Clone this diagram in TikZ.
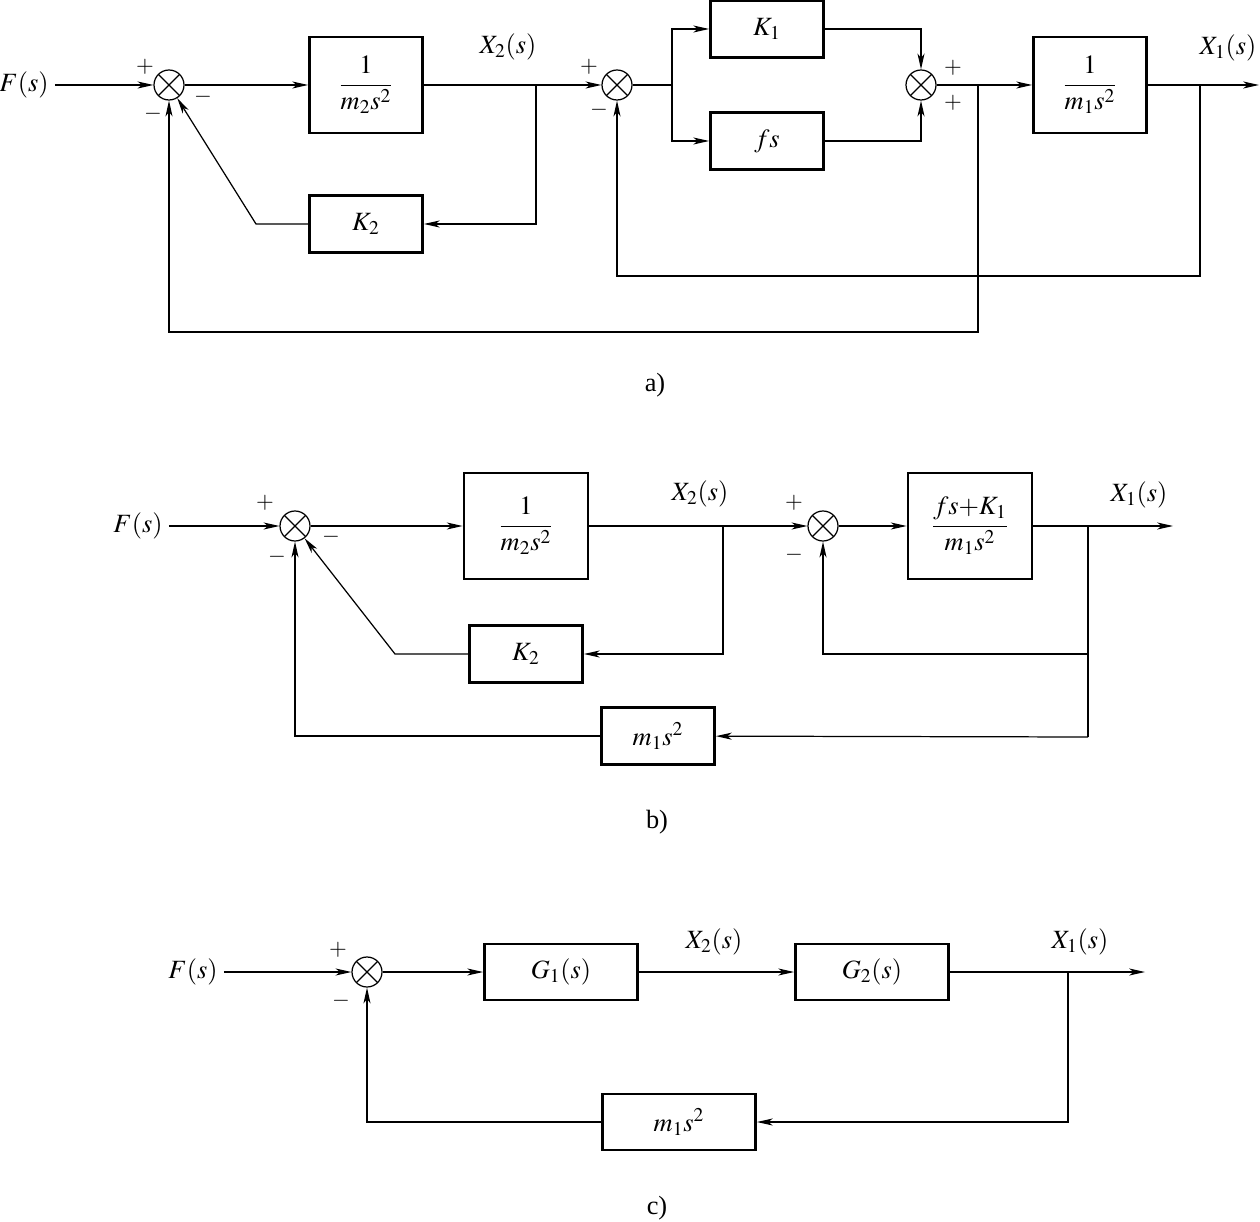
\documentclass[tikz,border=0pt]{standalone}
\usepackage{mathptmx}
\usepackage{fontspec}
\setmainfont{Liberation Serif}
\usetikzlibrary{arrows.meta}

\begin{document}
\begin{tikzpicture}[x=0.02cm,y=-0.02cm,line width=0.7pt,
  font=\fontsize{15}{17}\selectfont,
  Arr/.style={-{Stealth[length=9pt,width=4pt,inset=2.5pt]}},
  Blk/.style={draw,line width=1.6pt,inner sep=0pt},
  BigBlkA/.style={Blk,minimum width=2.26cm,minimum height=1.92cm},
  BigBlkB/.style={Blk,minimum width=2.48cm,minimum height=2.12cm},
  SmallBlk/.style={Blk,minimum width=2.26cm,minimum height=1.13cm},
  WideBlk/.style={Blk,minimum width=3.06cm,minimum height=1.12cm},
  SumPt/.style={circle,draw,line width=0.7pt,minimum size=0.6cm,inner sep=0pt,
    path picture={\draw (path picture bounding box.north west) -- (path picture bounding box.south east)
      (path picture bounding box.north east) -- (path picture bounding box.south west);}},
  Sgn/.style={inner sep=0pt,font=\fontsize{13}{15}\selectfont}]
\useasboundingbox (0,0) rectangle (1260,1222);

\node (fa) at (24,85) {$F(s)$};
\node[SumPt] (sa1) at (169,85) {};
\node[BigBlkA] (ga1) at (366,85) {$\displaystyle\frac{1}{m_2s^2}$};
\node[SmallBlk] (ka2) at (366,224) {$K_2$};
\node[SumPt] (sa2) at (617,85) {};
\node[SmallBlk] (ka1) at (767,29) {$K_1$};
\node[SmallBlk] (fsa) at (767,141) {$fs$};
\node[SumPt] (sa3) at (921,85) {};
\node[BigBlkA] (ga2) at (1090,85) {$\displaystyle\frac{1}{m_1s^2}$};
\node (xa2l) at (508,47) {$X_2(s)$};
\node (xa1l) at (1228,48) {$X_1(s)$};
\node[Sgn] at (145,67) {$+$};
\node[Sgn] at (153,114) {$-$};
\node[Sgn] at (203,97) {$-$};
\node[Sgn] at (589,67) {$+$};
\node[Sgn] at (599,110) {$-$};
\node[Sgn] at (953,68) {$+$};
\node[Sgn] at (953,103) {$+$};
\node (capa) at (655,385) {a)};

\coordinate (xa2) at (536,85);
\coordinate (ka2b) at (256,224);
\coordinate (spa) at (672,85);
\coordinate (ba) at (978,85);
\coordinate (bad) at (978,332);
\coordinate (xa1) at (1200,85);
\coordinate (xa1d) at (1200,276);
\coordinate (outa) at (1259,85);

\draw[Arr] (fa.east) -- (sa1);
\draw[Arr] (sa1) -- (ga1);
\draw (ga1) -- (xa2);
\draw[Arr] (xa2) -- (sa2);
\draw[Arr] (xa2) |- (ka2);
\draw[Arr] (ka2) -- (ka2b) -- (sa1);
\draw (sa2) -- (spa);
\draw[Arr] (spa) |- (ka1);
\draw[Arr] (spa) |- (fsa);
\draw[Arr] (ka1) -| (sa3);
\draw[Arr] (fsa) -| (sa3);
\draw[Arr] (sa3) -- (ga2);
\draw[Arr] (ba) -- (bad) -| (sa1);
\draw[Arr] (ga2) -- (outa);
\draw[Arr] (xa1) -- (xa1d) -| (sa2);

\node (fb) at (138,526) {$F(s)$};
\node[SumPt] (sb1) at (295,526) {};
\node[BigBlkB] (gb1) at (526,526) {$\displaystyle\frac{1}{m_2s^2}$};
\node[SmallBlk] (kb2) at (526,654) {$K_2$};
\node[SmallBlk] (hb) at (658,736) {$m_1s^2$};
\node[SumPt] (sb2) at (823,526) {};
\node[BigBlkB] (gb2) at (970,526) {$\displaystyle\frac{fs{+}K_1}{m_1s^2}$};
\node (xb2l) at (700,494) {$X_2(s)$};
\node (xb1l) at (1139,495) {$X_1(s)$};
\node[Sgn] at (265,503) {$+$};
\node[Sgn] at (277,557) {$-$};
\node[Sgn] at (331,537) {$-$};
\node[Sgn] at (794,503) {$+$};
\node[Sgn] at (794,555) {$-$};
\node (capb) at (657,822) {b)};

\coordinate (xb2) at (723,526);
\coordinate (kb2b) at (395,654);
\coordinate (xb1) at (1088,526);
\coordinate (xb1m) at (1088,654);
\coordinate (xb1d) at (1088,737);
\coordinate (outb) at (1173,526);

\draw[Arr] (fb.east) -- (sb1);
\draw[Arr] (sb1) -- (gb1);
\draw (gb1) -- (xb2);
\draw[Arr] (xb2) -- (sb2);
\draw[Arr] (xb2) |- (kb2);
\draw[Arr] (kb2) -- (kb2b) -- (sb1);
\draw[Arr] (sb2) -- (gb2);
\draw[Arr] (gb2) -- (outb);
\draw (xb1) -- (xb1d);
\draw[Arr] (xb1m) -| (sb2);
\draw[Arr] (xb1d) -- (hb);
\draw[Arr] (hb) -| (sb1);

\node (fc) at (193,972) {$F(s)$};
\node[SumPt] (sc) at (367,972) {};
\node[WideBlk] (gc1) at (561,972) {$G_1(s)$};
\node[WideBlk] (gc2) at (872,972) {$G_2(s)$};
\node[WideBlk] (hc) at (679,1122) {$m_1s^2$};
\node (xc2l) at (714,942) {$X_2(s)$};
\node (xc1l) at (1080,942) {$X_1(s)$};
\node[Sgn] at (338,950) {$+$};
\node[Sgn] at (341,1001) {$-$};
\node (capc) at (657,1208) {c)};

\coordinate (xc1) at (1068,972);
\coordinate (xc1d) at (1068,1122);
\coordinate (outc) at (1145,972);

\draw[Arr] (fc.east) -- (sc);
\draw[Arr] (sc) -- (gc1);
\draw[Arr] (gc1) -- (gc2);
\draw[Arr] (gc2) -- (outc);
\draw[Arr] (xc1) -- (xc1d) -- (hc);
\draw[Arr] (hc) -| (sc);
\end{tikzpicture}
\end{document}
